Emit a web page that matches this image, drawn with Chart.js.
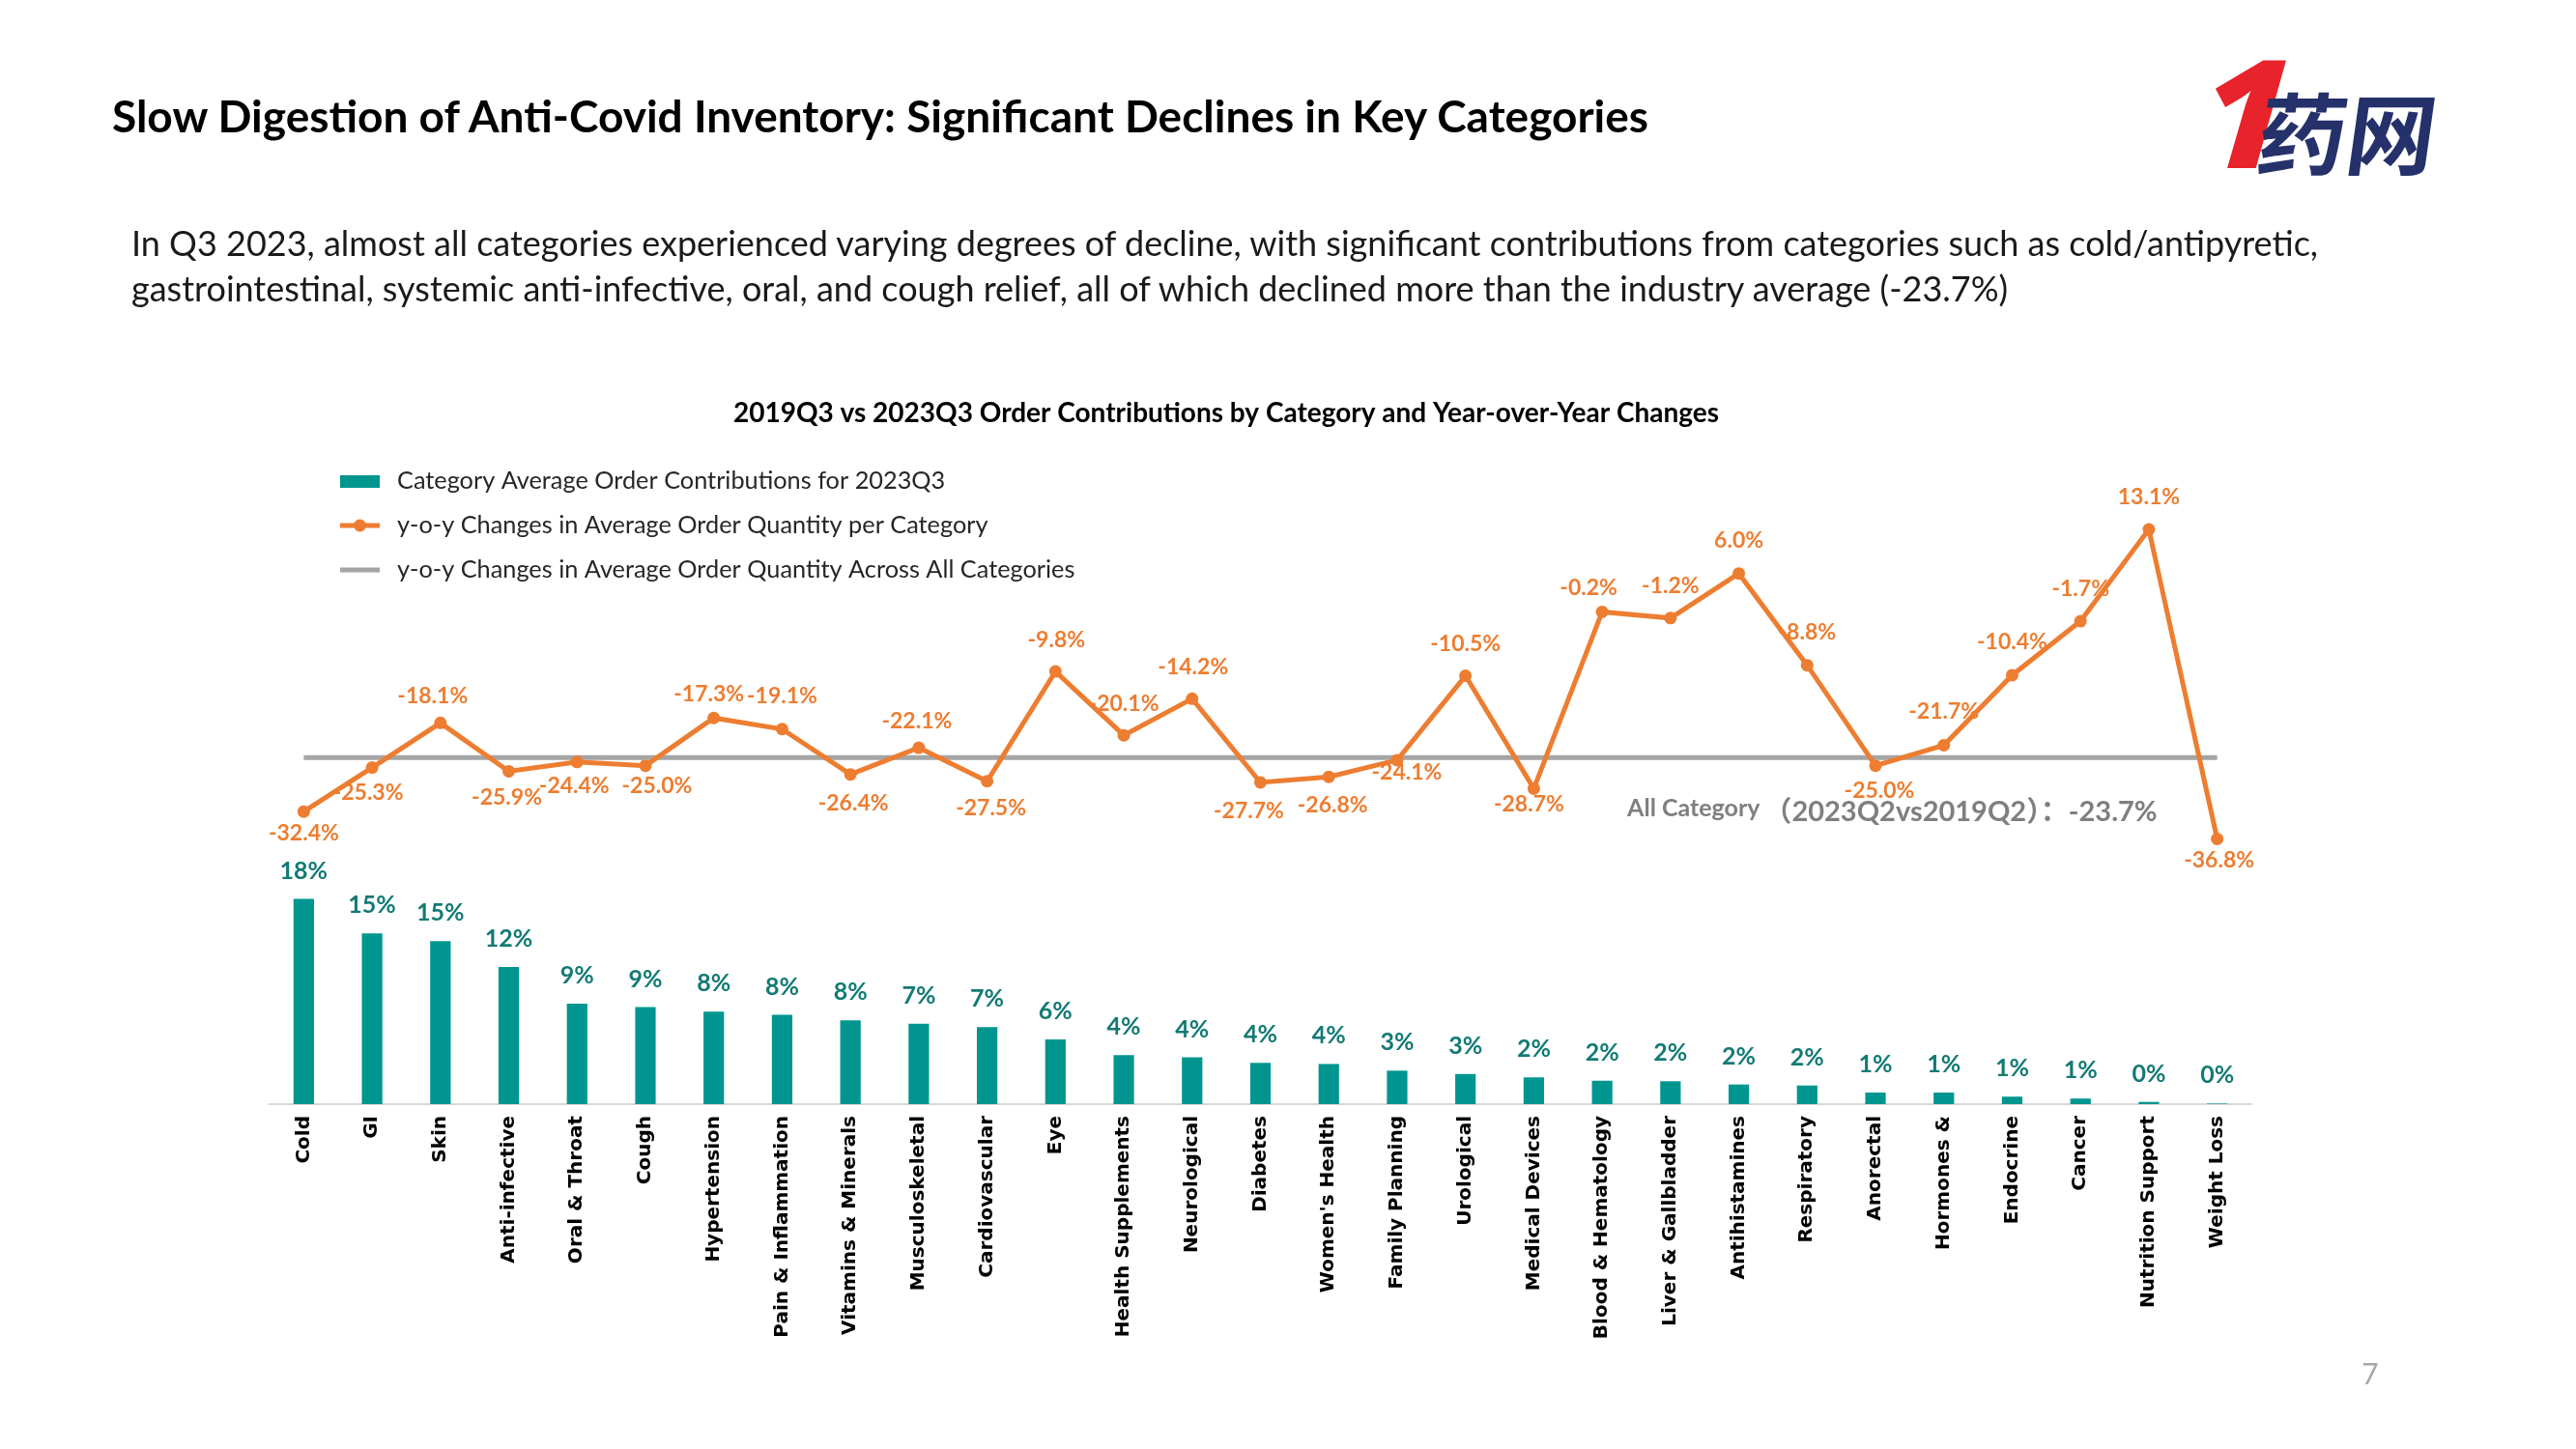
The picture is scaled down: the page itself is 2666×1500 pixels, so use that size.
<!DOCTYPE html>
<html>
<head>
<meta charset="utf-8">
<script src="https://cdn.jsdelivr.net/npm/chart.js@4.4.1/dist/chart.umd.min.js"></script>
<style>
html,body{margin:0;padding:0;background:#fff;}
body{width:2666px;height:1500px;position:relative;overflow:hidden;font-family:Lato,'Noto Sans',sans-serif;}
#wrap{position:absolute;left:0;top:0;width:2666px;height:1500px;}
.txt{position:absolute;white-space:nowrap;}
#title{left:116px;top:119px;transform:translateY(-50%);font-weight:700;font-size:46px;color:#000;}
#sub{left:136px;top:228px;font-size:36px;line-height:47px;color:#1a1a1a;}
#one{left:2280px;top:36px;font-family:'Noto Sans',sans-serif;font-size:156px;line-height:156px;font-weight:900;font-style:italic;color:#E8232B;transform:skewX(-4deg);}
#cn{left:2338px;top:88px;font-family:'Noto Sans CJK SC',sans-serif;font-size:92px;line-height:92px;font-weight:700;color:#25316A;transform:skewX(-8deg);}
#page{left:2453px;top:1421px;transform:translate(-50%,-50%);font-size:30px;color:#A6A6A6;}
</style>
</head>
<body>
<div id="wrap"><canvas id="c"></canvas></div>
<div class="txt" id="title">Slow Digestion of Anti-Covid Inventory: Significant Declines in Key Categories</div>
<div class="txt" id="sub">In Q3 2023, almost all categories experienced varying degrees of decline, with significant contributions from categories such as cold/antipyretic,<br>gastrointestinal, systemic anti-infective, oral, and cough relief, all of which declined more than the industry average (-23.7%)</div>
<div class="txt" id="one">1</div>
<div class="txt" id="cn">药网</div>
<div class="txt" id="page">7</div>
<script>
// ---------------- DATA ----------------
const categories = ['Cold','GI','Skin','Anti-infective','Oral & Throat','Cough','Hypertension','Pain & Inflammation','Vitamins & Minerals','Musculoskeletal','Cardiovascular','Eye','Health Supplements','Neurological','Diabetes',"Women's Health",'Family Planning','Urological','Medical Devices','Blood & Hematology','Liver & Gallbladder','Antihistamines','Respiratory','Anorectal','Hormones &','Endocrine','Cancer','Nutrition Support','Weight Loss'];
const orderContribution2023Q3 = [18.4,15.3,14.6,12.3,9.0,8.7,8.3,8.0,7.5,7.2,6.9,5.8,4.4,4.2,3.7,3.6,3.0,2.7,2.4,2.1,2.05,1.76,1.67,1.04,1.04,0.67,0.5,0.2,0.05];
const yoyChangePerCategory = [-32.4,-25.3,-18.1,-25.9,-24.4,-25.0,-17.3,-19.1,-26.4,-22.1,-27.5,-9.8,-20.1,-14.2,-27.7,-26.8,-24.1,-10.5,-28.7,-0.2,-1.2,6.0,-8.8,-25.0,-21.7,-10.4,-1.7,13.1,-36.8];
const yoyChangeAllCategories = -23.7;
const seriesNames = ['Category Average Order Contributions for 2023Q3','y-o-y Changes in Average Order Quantity per Category','y-o-y Changes in Average Order Quantity Across All Categories'];
const chartTitle = '2019Q3 vs 2023Q3 Order Contributions by Category and Year-over-Year Changes';
const avgNoteLabel = 'All Category';
const avgNoteText = '（2023Q2vs2019Q2）：-23.7%';

// label placement (offset of each value label from its point), styling only
const lineLabelOffset = [[0,22],[-4,26],[-8,-28],[-2,27],[-3,25],[12,21],[-5,-25],[0,-34],[3,30],[-2,-27],[4,28],[1,-32],[0,-33],[1,-33],[-12,30],[4,29],[10,13],[0,-33],[-5,16],[-14,-25],[0,-33],[0,-34],[0,-34],[4,26],[0,-35],[0,-34],[0,-33],[0,-33],[2,22]];

const TEAL='#00968F', TEAL_TXT='#137A74', ORANGE='#ED7D31', GRAY='#A5A5A5';

const valueLabels = {
  id:'valueLabels',
  afterDatasetsDraw(chart){
    const ctx = chart.ctx;
    ctx.save();
    ctx.textAlign='center'; ctx.textBaseline='middle';
    const bm = chart.getDatasetMeta(0);
    ctx.font='bold 25px Lato'; ctx.fillStyle=TEAL_TXT;
    bm.data.forEach((el,i)=>{
      ctx.fillText(Math.round(orderContribution2023Q3[i])+'%', el.x, el.y-29);
    });
    const lm = chart.getDatasetMeta(1);
    ctx.font='bold 23px Lato'; ctx.fillStyle=ORANGE;
    lm.data.forEach((el,i)=>{
      const o = lineLabelOffset[i];
      ctx.fillText(yoyChangePerCategory[i].toFixed(1)+'%', el.x+o[0], el.y+o[1]);
    });
    const xs = chart.scales.x, ys = chart.scales.y1;
    const nx = xs.getPixelForValue(19)+26, ny = ys.getPixelForValue(yoyChangeAllCategories)+53;
    ctx.textAlign='left'; ctx.fillStyle='#7F7F7F';
    ctx.font='bold 25px Lato';
    ctx.fillText(avgNoteLabel, nx, ny);
    const w = ctx.measureText(avgNoteLabel).width;
    ctx.font="bold 29px Lato, 'Noto Sans CJK SC'";
    ctx.fillText(avgNoteText, nx+w+4, ny+3);
    ctx.restore();
  },
  afterDraw(chart){
    const ctx = chart.ctx;
    ctx.save();
    // chart title
    ctx.fillStyle='#000'; ctx.font='bold 28px Lato'; ctx.textAlign='center'; ctx.textBaseline='middle';
    ctx.fillText(chartTitle, 1269, 428);
    // legend
    const lx=352, lw=41, ys=[498,544,590];
    ctx.fillStyle=TEAL; ctx.fillRect(lx, ys[0]-6, lw, 13);
    ctx.strokeStyle=ORANGE; ctx.lineWidth=5; ctx.beginPath(); ctx.moveTo(lx,ys[1]); ctx.lineTo(lx+lw,ys[1]); ctx.stroke();
    ctx.fillStyle=ORANGE; ctx.beginPath(); ctx.arc(lx+lw/2,ys[1],6.5,0,Math.PI*2); ctx.fill();
    ctx.strokeStyle=GRAY; ctx.beginPath(); ctx.moveTo(lx,ys[2]); ctx.lineTo(lx+lw,ys[2]); ctx.stroke();
    ctx.fillStyle='#262626'; ctx.font='25.3px Lato'; ctx.textAlign='left'; ctx.textBaseline='middle';
    seriesNames.forEach((t,i)=>ctx.fillText(t, 411, ys[i]));
    ctx.restore();
  }
};

Chart.defaults.font.family='Lato';
new Chart(document.getElementById('c'), {
  data:{
    labels:categories,
    datasets:[
      {type:'bar', label:seriesNames[0], data:orderContribution2023Q3, backgroundColor:TEAL, yAxisID:'y', barPercentage:0.3, categoryPercentage:1.0, order:3},
      {type:'line', label:seriesNames[1], data:yoyChangePerCategory, borderColor:ORANGE, backgroundColor:ORANGE, borderWidth:5, pointRadius:6.5, pointBackgroundColor:ORANGE, pointBorderWidth:0, tension:0, yAxisID:'y1', order:1, clip:false},
      {type:'line', label:seriesNames[2], data:categories.map(()=>yoyChangeAllCategories), borderColor:GRAY, borderWidth:5, pointRadius:0, tension:0, yAxisID:'y1', order:2, clip:false}
    ]
  },
  options:{
    responsive:true, maintainAspectRatio:false, animation:false,
    layout:{padding:{left:279, right:336, top:480, bottom:0}},
    plugins:{
      legend:{display:false}, tooltip:{enabled:false}, title:{display:false}
    },
    scales:{
      x:{
        grid:{display:true, color:'rgba(0,0,0,0)', drawOnChartArea:false, drawTicks:false},
        border:{display:true, color:'#D9D9D9', width:2},
        ticks:{autoSkip:false, maxRotation:90, minRotation:90, padding:12, color:'#000', font:{family:'DejaVu Sans', size:20, weight:'bold'}},
        afterFit:(s)=>{ s.height = 357; }
      },
      y:{display:false, min:0, max:57.4},
      y1:{display:false, min:-79.57, max:23.7}
    }
  },
  plugins:[valueLabels]
});
</script>
</body>
</html>
